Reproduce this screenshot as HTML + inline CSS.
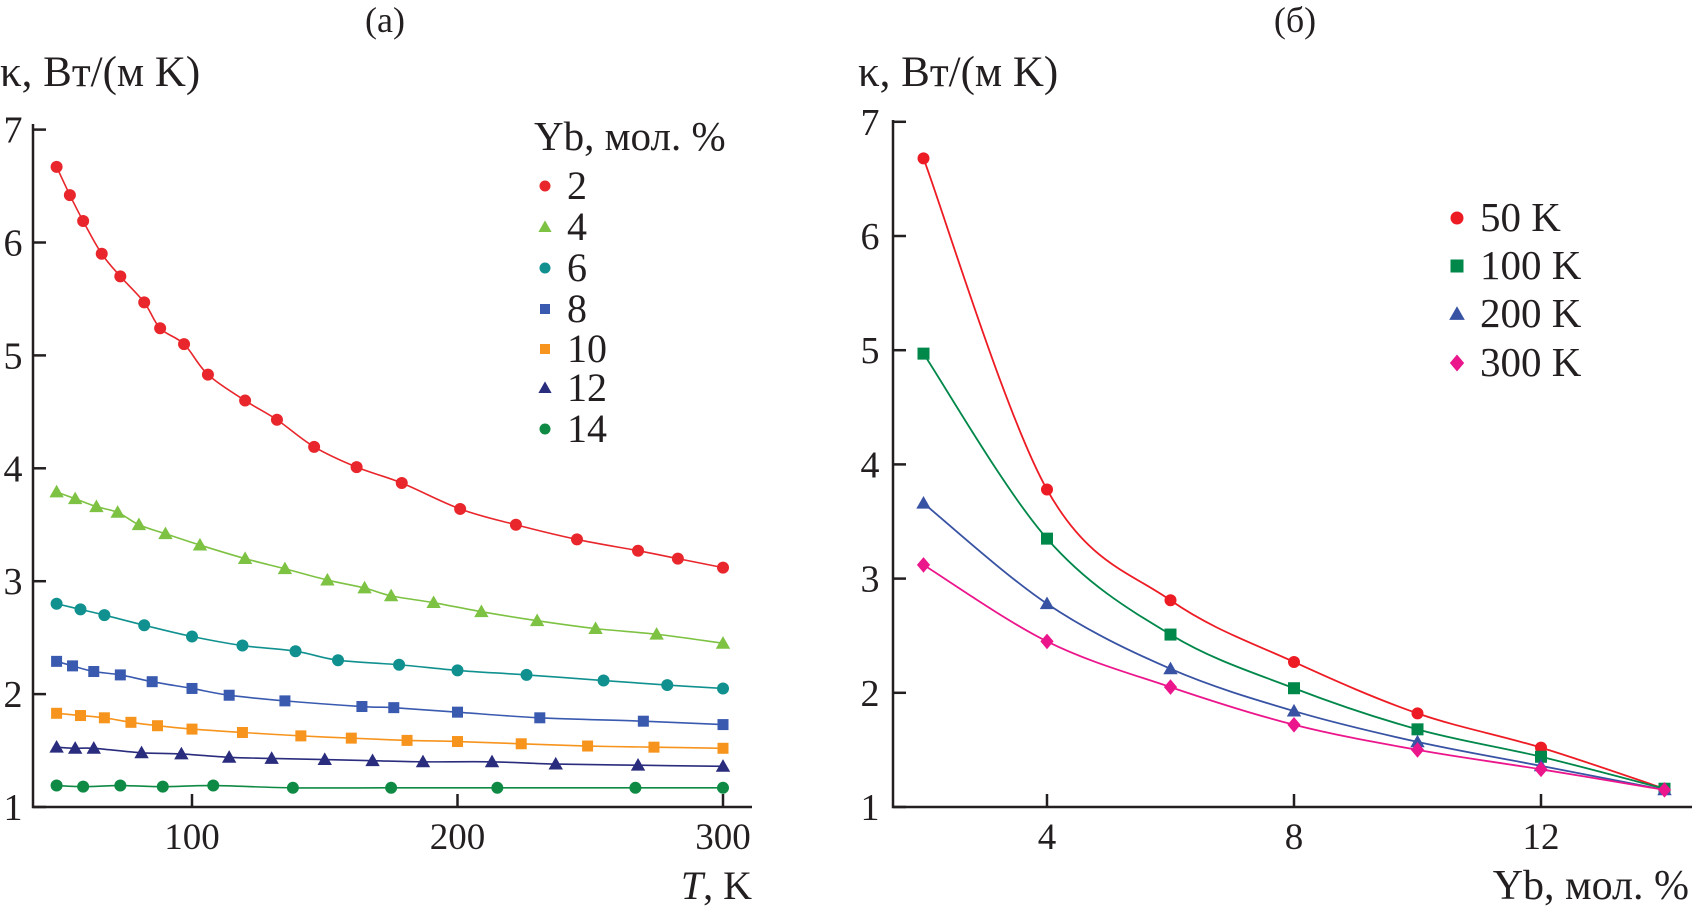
<!DOCTYPE html>
<html><head><meta charset="utf-8">
<style>
html,body{margin:0;padding:0;background:#fff;}
svg{display:block;font-family:"Liberation Serif",serif;}
</style></head>
<body>
<svg id="c" width="1692" height="912" viewBox="0 0 1692 912" xmlns="http://www.w3.org/2000/svg">
<g id="g"></g>
</svg>
<script>
// ---- panel (a) data ----
const seriesNamesA = ["2","4","6","8","10","12","14"];
const tA2 = [49,54,59,66,73,82,88,97,106,120,132,146,162,179,201,222,245,268,283,300];
const kA2 = [6.67,6.42,6.19,5.9,5.7,5.47,5.24,5.1,4.83,4.6,4.43,4.19,4.01,3.87,3.64,3.5,3.37,3.27,3.2,3.12];
const tA4 = [49,56,64,72,80,90,103,120,135,151,165,175,191,209,230,252,275,300];
const kA4 = [3.79,3.73,3.66,3.61,3.5,3.42,3.32,3.2,3.11,3.01,2.94,2.87,2.81,2.73,2.65,2.58,2.53,2.45];
const tA6 = [49,58,67,82,100,119,139,155,178,200,226,255,279,300];
const kA6 = [2.8,2.75,2.7,2.61,2.51,2.43,2.38,2.3,2.26,2.21,2.17,2.12,2.08,2.05];
const tA8 = [49,55,63,73,85,100,114,135,164,176,200,231,270,300];
const kA8 = [2.29,2.25,2.2,2.17,2.11,2.05,1.99,1.94,1.89,1.88,1.84,1.79,1.76,1.73];
const tA10 = [49,58,67,77,87,100,119,141,160,181,200,224,249,274,300];
const kA10 = [1.83,1.81,1.79,1.75,1.72,1.69,1.66,1.63,1.61,1.59,1.58,1.56,1.54,1.53,1.52];
const tA12 = [49,56,63,81,96,114,130,150,168,187,213,237,268,300];
const kA12 = [1.53,1.52,1.52,1.48,1.47,1.44,1.43,1.42,1.41,1.4,1.4,1.38,1.37,1.36];
const tA14 = [49,59,73,89,108,138,175,215,267,300];
const kA14 = [1.19,1.18,1.19,1.18,1.19,1.17,1.17,1.17,1.17,1.17];
const xTicksA = [100,200,300];
const yTicks = [1,2,3,4,5,6,7];
// ---- panel (b) data ----
const ybB = [2,4,6,8,10,12,14];
const seriesNamesB = ["50 K","100 K","200 K","300 K"];
const k50 = [6.68,3.78,2.81,2.27,1.82,1.52,1.16];
const k100 = [4.97,3.35,2.51,2.04,1.68,1.44,1.16];
const k200 = [3.66,2.78,2.21,1.84,1.57,1.36,1.15];
const k300 = [3.12,2.45,2.05,1.72,1.5,1.33,1.15];
const xTicksB = [4,8,12];

const NS="http://www.w3.org/2000/svg";
const G=document.getElementById('g');
function mk(tag,attrs,parent){const e=document.createElementNS(NS,tag);for(const k in attrs)e.setAttribute(k,attrs[k]);(parent||G).appendChild(e);return e;}
function txt(x,y,s,anchor,size,name){const e=mk('text',{x:x,y:y,'text-anchor':anchor||'start','font-size':size||34,fill:'#231f20'});e.textContent=s;


return e;}
const xA=t=>192+(t-100)*2.655, yA=v=>807-(v-1)*112.9;
const xB=b=>1047+(b-4)*61.75, yB=v=>807-(v-1)*114.2;

function spline(pts){let d='M'+pts[0][0]+','+pts[0][1];
for(let i=0;i<pts.length-1;i++){const p0=pts[i-1]||pts[i],p1=pts[i],p2=pts[i+1],p3=pts[i+2]||p2;
const c1=[p1[0]+(p2[0]-p0[0])/6,p1[1]+(p2[1]-p0[1])/6],c2=[p2[0]-(p3[0]-p1[0])/6,p2[1]-(p3[1]-p1[1])/6];
d+=' C'+c1[0]+','+c1[1]+' '+c2[0]+','+c2[1]+' '+p2[0]+','+p2[1];}return d;}
function marker(shape,x,y,col,r,name){let e;
if(shape==='c')e=mk('circle',{cx:x,cy:y,r:r,fill:col});
else if(shape==='s')e=mk('rect',{x:x-r,y:y-r,width:2*r,height:2*r,fill:col});
else if(shape==='t')e=mk('polygon',{points:`${x},${y-r*1.2} ${x-r*1.2},${y+r*0.9} ${x+r*1.2},${y+r*0.9}`,fill:col});
else e=mk('polygon',{points:`${x},${y-r*1.3} ${x+r*1.1},${y} ${x},${y+r*1.3} ${x-r*1.1},${y}`,fill:col});


return e;}

// Panel A
const colA=['#e8262b','#7dc242','#10918f','#3a5ab0','#f7941d','#2a2c7d','#0f8a44'];
const shpA=['c','t','c','s','s','t','c'];
const tsA=[tA2,tA4,tA6,tA8,tA10,tA12,tA14], ksA=[kA2,kA4,kA6,kA8,kA10,kA12,kA14];
mk('path',{d:'M33,124 V807 H752',fill:'none',stroke:'#231f20','stroke-width':2.5});
yTicks.forEach(v=>{mk('line',{x1:33,x2:46,y1:yA(v),y2:yA(v),stroke:'#231f20','stroke-width':2.5});txt(13,yA(v)+13,String(v),'middle',38,'y-tick-a-'+v);});
xTicksA.forEach(t=>{mk('line',{x1:xA(t),x2:xA(t),y1:807,y2:794,stroke:'#231f20','stroke-width':2.5});txt(xA(t),849,String(t),'middle',37,'x-tick-a-'+t);});
tsA.forEach((ts,i)=>{const pts=ts.map((t,j)=>[xA(t),yA(ksA[i][j])]);
const p=mk('path',{d:spline(pts),fill:'none',stroke:colA[i],'stroke-width':1.6});


pts.forEach(q=>marker(shpA[i],q[0],q[1],colA[i],shpA[i]==='s'?5.5:6,'point-a-'+seriesNamesA[i]));});
txt(385,32,'(а)','middle',36,'panel-a-label');
txt(0,86,'κ, Вт/(м K)','start',43,'y-axis-title-a');
const xt=txt(752,899,'','end',40,'x-axis-title-a');
const ti=mk('tspan',{'font-style':'italic'},xt);ti.textContent='T';const tr=mk('tspan',{},xt);tr.textContent=', K';
txt(534,150,'Yb, мол. %','start',41,'legend-title-a');
const lyA=[186,227,268,309,349,388,429];
seriesNamesA.forEach((s,i)=>{marker(shpA[i],545,lyA[i],colA[i],shpA[i]==='s'?5:5.5,'legend-marker-a-'+s);txt(567,lyA[i]+13,s,'start',40,'legend-label-a-'+s);});

// Panel B
const colB=['#ed1c24','#00874a','#3953a4','#ec168c'];
const shpB=['c','s','t','d'];
const ksB=[k50,k100,k200,k300];
mk('path',{d:'M893,120 V807 H1692',fill:'none',stroke:'#231f20','stroke-width':2.5});
yTicks.forEach(v=>{mk('line',{x1:893,x2:906,y1:yB(v),y2:yB(v),stroke:'#231f20','stroke-width':2.5});txt(870,yB(v)+13,String(v),'middle',38,'y-tick-b-'+v);});
xTicksB.forEach(b=>{mk('line',{x1:xB(b),x2:xB(b),y1:807,y2:794,stroke:'#231f20','stroke-width':2.5});txt(xB(b),849,String(b),'middle',37,'x-tick-b-'+b);});
ksB.forEach((ks,i)=>{const pts=ybB.map((b,j)=>[xB(b),yB(ks[j])]);
const p=mk('path',{d:spline(pts),fill:'none',stroke:colB[i],'stroke-width':1.8});


pts.forEach(q=>marker(shpB[i],q[0],q[1],colB[i],6,'point-b-'+seriesNamesB[i]));});
txt(1295,32,'(б)','middle',36,'panel-b-label');
txt(858,86,'κ, Вт/(м K)','start',43,'y-axis-title-b');
txt(1689,899,'Yb, мол. %','end',42,'x-axis-title-b');
const lyB=[218,266,314,363];
seriesNamesB.forEach((s,i)=>{marker(shpB[i],1457,lyB[i],colB[i],6.5,'legend-marker-b-'+i);txt(1480,lyB[i]+13,s,'start',41,'legend-label-b-'+i);});
</script>
</body></html>
